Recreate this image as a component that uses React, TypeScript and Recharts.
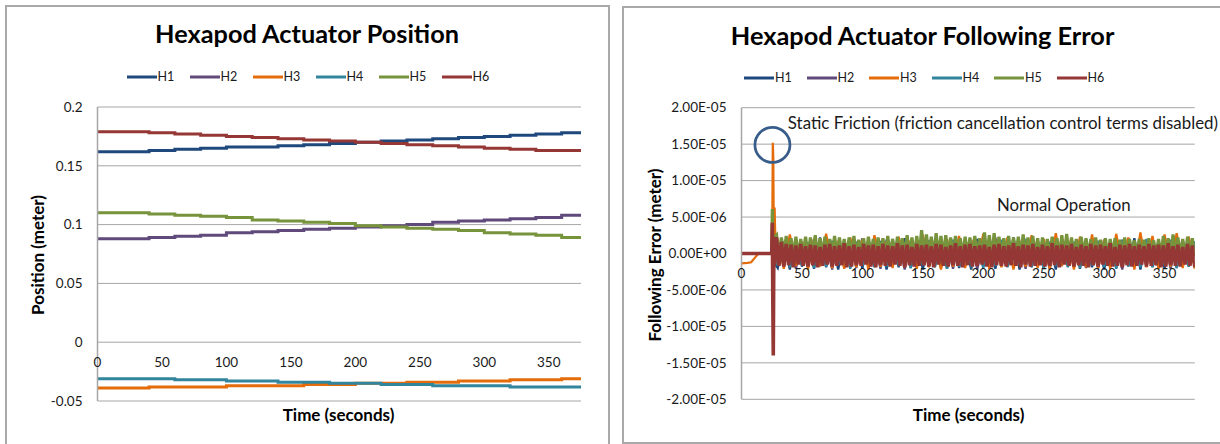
import React from 'react';
import { LineChart, Line, XAxis, YAxis, CartesianGrid, ReferenceDot } from 'recharts';

// ---------- shared ----------
const SERIES = [
  { key: 'H1', color: '#1F497D' },
  { key: 'H2', color: '#604A7B' },
  { key: 'H3', color: '#E46C0A' },
  { key: 'H4', color: '#31859C' },
  { key: 'H5', color: '#77933C' },
  { key: 'H6', color: '#953735' },
];
const TIME_TICKS = [0, 50, 100, 150, 200, 250, 300, 350];
const TIME_DOMAIN = [0, 375];

// ---------- left chart: position (meter) ----------
const POS_TICKS = [-0.05, 0, 0.05, 0.1, 0.15, 0.2];
const POS_TIME = [0, 20, 40, 60, 80, 100, 120, 140, 160, 180, 200, 220, 240, 260, 280, 300, 320, 340, 360, 375];
const POS_H1 = [0.162, 0.162, 0.163, 0.164, 0.165, 0.166, 0.166, 0.167, 0.168, 0.169, 0.170, 0.171, 0.172, 0.173, 0.174, 0.175, 0.176, 0.177, 0.178, 0.179];
const POS_H2 = [0.088, 0.088, 0.089, 0.090, 0.091, 0.093, 0.094, 0.095, 0.096, 0.097, 0.098, 0.099, 0.100, 0.102, 0.103, 0.104, 0.105, 0.106, 0.108, 0.109];
const POS_H3 = [-0.039, -0.039, -0.038, -0.038, -0.038, -0.037, -0.037, -0.037, -0.036, -0.036, -0.035, -0.035, -0.034, -0.034, -0.033, -0.033, -0.032, -0.032, -0.031, -0.031];
const POS_H4 = [-0.031, -0.031, -0.031, -0.032, -0.032, -0.033, -0.033, -0.034, -0.034, -0.035, -0.035, -0.036, -0.036, -0.037, -0.037, -0.037, -0.038, -0.038, -0.038, -0.038];
const POS_H5 = [0.110, 0.110, 0.109, 0.108, 0.107, 0.106, 0.104, 0.103, 0.102, 0.101, 0.099, 0.098, 0.097, 0.096, 0.095, 0.093, 0.092, 0.091, 0.089, 0.088];
const POS_H6 = [0.179, 0.179, 0.178, 0.177, 0.176, 0.175, 0.174, 0.173, 0.172, 0.171, 0.170, 0.169, 0.168, 0.167, 0.166, 0.165, 0.164, 0.163, 0.163, 0.162];

// ---------- right chart: following error (micrometer values, x1e-6 m) ----------
const UM = 1e-6;
const ERR_TICKS = [-2e-5, -1.5e-5, -1e-5, -5e-6, 0, 5e-6, 1e-5, 1.5e-5, 2e-5];
const ERR_START_T = [0, 5, 8, 11, 14, 25.0, 25.5, 25.9, 26.3, 26.8, 27.4, 28.0];
const ERR_START_H1 = [0, 0, 0, 0, 0, 0, 1.5, -6.0, 2.0, -2.5, 1.8, -1.5];
const ERR_START_H2 = [0, 0, 0, 0, 0, 0, 2.0, -5.5, 1.5, -2.0, 1.5, -1.2];
const ERR_START_H3 = [-1.35, -1.3, -1.2, -0.6, 0, 0, 4.0, 15.2, 13.0, -1.0, 6.3, 1.5];
const ERR_START_H4 = [0, 0, 0, 0, 0, 0, 1.0, -4.0, -10.3, 1.5, -1.5, 1.0];
const ERR_START_H5 = [0, 0, 0, 0, 0, 0, 6.1, 2.0, -3.5, 2.5, 1.5, 2.3];
const ERR_START_H6 = [0, 0, 0, 0, 0, 0, 4.2, -6.5, -14.0, 2.0, -1.5, 2.0];

// noise sampled every 5 s from 30 s
const COARSE_T0 = 30;
const COARSE_STEP = 5;
const ERR_NOISE_H1 = [
  -2.0, 1.6, -2.2, 1.9, -1.8, 1.5, -2.1, 2.2, -1.9, 1.7,
  -2.2, 1.8, -1.9, 1.6, -2.1, 2.0, -1.8, 1.7, -2.2, 1.5,
  -1.9, 2.1, -2.0, 1.6, -2.2, 1.8, -1.8, 1.9, -2.1, 1.7,
  -2.0, 1.5, -2.2, 2.0, -1.9, 1.8, -2.1, 1.6, -1.8, 2.2,
  -2.2, 1.7, -1.9, 1.9, -2.0, 1.6, -2.2, 1.8, -1.8, 1.5,
  -2.1, 2.0, -1.9, 1.7, -2.2, 1.6, -2.0, 1.9, -1.8, 2.1,
  -2.2, 1.8, -1.9, 1.6, -2.1, 1.7, -2.0, 1.9, -1.8, 1.6,
];
const ERR_NOISE_H2 = [
  1.5, -1.8, 1.9, -2.1, 1.6, -1.9, 2.0, -1.7, 1.8, -2.2,
  1.7, -1.9, 1.5, -2.0, 2.1, -1.8, 1.6, -2.1, 1.9, -1.7,
  1.8, -2.2, 1.6, -1.9, 2.0, -1.8, 1.7, -2.0, 1.5, -2.1,
  1.9, -1.7, 1.8, -2.2, 1.6, -1.9, 2.2, -1.8, 1.7, -2.0,
  1.5, -2.1, 1.9, -1.8, 1.6, -2.2, 2.0, -1.7, 1.8, -1.9,
  1.7, -2.0, 1.6, -2.1, 1.9, -1.8, 1.5, -2.2, 2.1, -1.9,
  1.8, -1.7, 1.6, -2.0, 1.9, -2.1, 1.7, -1.8, 2.0, -1.9,
];
const ERR_NOISE_H3 = [
  1.8, -2.1, 2.6, -1.7, 1.6, -2.2, 2.0, -1.8, 2.7, -2.0,
  1.7, -2.1, 2.2, -1.9, 1.9, -2.2, 2.5, -1.8, 1.6, -2.0,
  2.3, -1.7, 1.8, -2.1, 2.6, -1.9, 1.7, -2.2, 2.0, -1.8,
  2.4, -2.0, 1.9, -1.7, 2.7, -2.1, 1.8, -1.9, 2.2, -2.2,
  1.7, -1.8, 2.5, -2.0, 2.0, -2.1, 2.8, -1.7, 1.9, -2.2,
  2.3, -1.9, 2.6, -2.0, 1.8, -2.1, 2.7, -1.8, 2.2, -2.2,
  2.9, -1.9, 2.4, -2.1, 2.6, -1.8, 2.8, -2.0, 2.3, -2.1,
];
const ERR_NOISE_H4 = [
  -1.7, 1.6, -1.9, 1.8, -1.6, 1.5, -2.0, 1.9, -1.8, 1.7,
  -1.6, 1.9, -2.1, 1.5, -1.7, 1.8, -1.9, 1.6, -1.8, 2.0,
  -1.7, 1.5, -2.0, 1.8, -1.6, 1.7, -1.9, 1.6, -2.1, 1.9,
  -1.8, 1.7, -1.6, 1.5, -2.0, 1.8, -1.7, 1.9, -1.9, 1.6,
  -1.6, 2.0, -1.8, 1.7, -2.1, 1.5, -1.7, 1.8, -1.9, 1.6,
  -2.0, 1.9, -1.6, 1.7, -1.8, 1.5, -2.1, 1.8, -1.7, 1.6,
  -1.9, 2.0, -1.8, 1.7, -1.6, 1.9, -2.0, 1.5, -1.8, 1.7,
];
// noise sampled every 2 s from 29 s
const FINE_T0 = 29;
const FINE_STEP = 2;
const ERR_NOISE_H5 = [
  2.5, -0.4, 2.2, -0.2, 2.4, -0.5, 2.1, -0.3, 2.3, -0.4,
  2.0, -0.2, 2.3, -0.5, 2.2, -0.3, 2.5, -0.4, 2.1, -0.2,
  2.3, -0.5, 2.0, -0.3, 2.4, -0.4, 2.2, -0.2, 2.0, -0.5,
  2.2, -0.3, 2.4, -0.4, 1.9, -0.2, 2.1, -0.5, 2.3, -0.3,
  2.0, -0.4, 2.2, -0.2, 2.1, -0.5, 2.4, -0.3, 2.0, -0.4,
  2.3, -0.2, 2.1, -0.5, 2.5, -0.3, 2.2, -0.4, 2.4, -0.2,
  3.2, -0.4, 2.6, -0.3, 2.3, -0.5, 2.8, -0.2, 2.4, -0.4,
  2.5, -0.3, 2.2, -0.5, 2.4, -0.2, 2.1, -0.4, 2.3, -0.3,
  2.2, -0.5, 2.4, -0.3, 2.1, -0.4, 2.9, -0.2, 2.5, -0.5,
  2.8, -0.3, 2.3, -0.4, 2.1, -0.2, 2.4, -0.5, 2.2, -0.3,
  2.3, -0.4, 2.6, -0.2, 2.2, -0.5, 2.4, -0.3, 2.1, -0.4,
  2.2, -0.3, 2.0, -0.5, 2.3, -0.2, 2.1, -0.4, 2.5, -0.3,
  2.7, -0.4, 2.2, -0.3, 2.0, -0.5, 2.3, -0.2, 2.1, -0.4,
  2.0, -0.2, 2.2, -0.4, 1.9, -0.3, 2.1, -0.5, 2.0, -0.2,
  2.1, -0.4, 1.9, -0.3, 2.2, -0.5, 2.0, -0.2, 1.8, -0.4,
  2.0, -0.3, 1.9, -0.5, 2.1, -0.2, 1.8, -0.4, 2.0, -0.3,
  2.4, -0.5, 2.1, -0.3, 2.6, -0.4, 2.2, -0.2, 2.0, -0.5,
  2.3, -0.3, 2.1, -0.4,
];
const ERR_NOISE_H6 = [
  2.0, -1.7, 1.6, -1.8, 1.3, -1.6, 1.2, -1.9, 1.1, -1.5,
  1.3, -1.7, 1.0, -1.8, 1.2, -1.6, 1.1, -1.9, 0.9, -1.7,
  1.2, -1.5, 1.3, -1.8, 1.0, -1.7, 1.1, -1.6, 1.4, -1.9,
  1.0, -1.8, 1.2, -1.6, 0.9, -1.7, 1.3, -1.5, 1.1, -1.8,
  1.2, -1.9, 1.0, -1.6, 1.3, -1.7, 1.1, -1.8, 1.0, -1.5,
  1.4, -1.7, 1.1, -1.9, 1.2, -1.6, 0.9, -1.8, 1.3, -1.7,
  1.1, -1.6, 1.2, -1.8, 1.0, -1.9, 1.3, -1.5, 1.2, -1.7,
  0.9, -1.8, 1.1, -1.6, 1.4, -1.7, 1.0, -1.9, 1.2, -1.6,
  1.3, -1.8, 1.0, -1.7, 1.1, -1.5, 1.2, -1.8, 0.9, -1.9,
  1.2, -1.6, 1.3, -1.7, 1.0, -1.8, 1.1, -1.6, 1.4, -1.7,
  1.0, -1.9, 1.2, -1.5, 1.1, -1.8, 1.3, -1.7, 0.9, -1.6,
  1.2, -1.8, 1.0, -1.7, 1.4, -1.6, 1.1, -1.9, 1.2, -1.5,
  1.1, -1.7, 1.3, -1.8, 0.9, -1.6, 1.2, -1.7, 1.0, -1.9,
  1.3, -1.6, 1.1, -1.8, 1.2, -1.5, 1.0, -1.7, 1.4, -1.8,
  0.9, -1.7, 1.2, -1.9, 1.1, -1.6, 1.3, -1.8, 1.0, -1.7,
  1.2, -1.5, 1.0, -1.8, 1.3, -1.7, 1.1, -1.6, 1.2, -1.9,
  1.1, -1.8, 1.4, -1.6, 1.0, -1.7, 1.2, -1.8, 0.9, -1.5,
  1.3, -1.7, 1.1, -1.9,
];

// ---------- build tables ----------
const posSeries = (vals: number[]) => POS_TIME.map((t, i) => ({ t, v: vals[i] }));
const POS_DATA: Record<string, { t: number; v: number }[]> = {
  H1: posSeries(POS_H1), H2: posSeries(POS_H2), H3: posSeries(POS_H3),
  H4: posSeries(POS_H4), H5: posSeries(POS_H5), H6: posSeries(POS_H6),
};
const errSeries = (start: number[], noise: number[], t0: number, step: number) => [
  ...ERR_START_T.map((t, i) => ({ t, v: start[i] * UM })),
  ...noise.map((v, i) => ({ t: t0 + i * step, v: v * UM })),
];
const ERR_DATA: Record<string, { t: number; v: number }[]> = {
  H1: errSeries(ERR_START_H1, ERR_NOISE_H1, COARSE_T0, COARSE_STEP),
  H2: errSeries(ERR_START_H2, ERR_NOISE_H2, COARSE_T0, COARSE_STEP),
  H3: errSeries(ERR_START_H3, ERR_NOISE_H3, COARSE_T0, COARSE_STEP),
  H4: errSeries(ERR_START_H4, ERR_NOISE_H4, COARSE_T0, COARSE_STEP),
  H5: errSeries(ERR_START_H5, ERR_NOISE_H5, FINE_T0, FINE_STEP),
  H6: errSeries(ERR_START_H6, ERR_NOISE_H6, FINE_T0, FINE_STEP),
};
const ERR_WIDTH: Record<string, number> = { H1: 2.25, H2: 2.25, H3: 2.25, H4: 2.25, H5: 3.2, H6: 3.6 };

const fmtExp = (v: number) => {
  if (v === 0) return '0.00E+00';
  const [m, e] = v.toExponential(2).split('e');
  const sign = e[0] === '-' ? '-' : '+';
  const d = e.replace(/^[+-]/, '').padStart(2, '0');
  return `${m}E${sign}${d}`;
};

const FONT = 'Lato, "Open Sans", sans-serif';
const GRID = '#a6a6a6';
const TXT = '#1a1a1a';

// layout constants (page pixels)
const L_TOP = 107, L_BOTTOM = 401, L_LEFT = 97.5, L_RIGHT = 581;
const R_TOP = 107.7, R_BOTTOM = 399.3, R_LEFT = 131.5, R_RIGHT = 584.8; // right chart is offset by 610
const CHART_H = 444;
const XAXIS_H = 20;

const makeXTick = (zeroY: number) => (props: any) => {
  const { x, payload } = props;
  return (
    <text x={x} y={zeroY + 20} dy="0.355em" textAnchor="middle" fontSize={13.5} fill={TXT} fontFamily={FONT}>
      {payload.value}
    </text>
  );
};

const Legend6 = ({ left, top, pitch }: { left: number; top: number; pitch: number }) => (
  <div style={{ position: 'absolute', left, top: top - 9, height: 18, display: 'flex', alignItems: 'center', fontFamily: FONT, fontSize: 12.5, color: TXT }}>
    {SERIES.map((s, i) => (
      <div key={s.key} style={{ display: 'flex', alignItems: 'center', width: i < SERIES.length - 1 ? pitch : 'auto' }}>
        <svg width={30} height={6} style={{ display: 'block' }}>
          <line x1={0} y1={3} x2={30} y2={3} stroke={s.color} strokeWidth={3} />
        </svg>
        <span style={{ marginLeft: 1 }}>{s.key}</span>
      </div>
    ))}
  </div>
);

export default function App() {
  const lZero = L_TOP + (L_BOTTOM - L_TOP) * (0.2 / 0.25);
  const rZero = R_TOP + (R_BOTTOM - R_TOP) * 0.5;
  return (
    <div style={{ position: 'absolute', left: 0, top: 0, width: 1220, height: 444, overflow: 'hidden', background: '#fff', fontFamily: FONT }}>
      {/* panel borders */}
      <div style={{ position: 'absolute', left: 5, top: 4.7, width: 605.3, height: 460, border: '2px solid #a9a9a9', boxSizing: 'border-box' }} />
      <div style={{ position: 'absolute', left: 622.3, top: 6.3, width: 605, height: 437.4, border: '2px solid #a9a9a9', boxSizing: 'border-box' }} />

      {/* left chart */}
      <div style={{ position: 'absolute', left: 0, top: 0 }}>
        <LineChart width={610} height={CHART_H} margin={{ top: L_TOP, right: 610 - L_RIGHT, bottom: CHART_H - L_BOTTOM - XAXIS_H, left: L_LEFT - 60 }}>
          <CartesianGrid vertical={false} stroke={GRID} strokeWidth={1} />
          <XAxis dataKey="t" type="number" domain={TIME_DOMAIN} ticks={TIME_TICKS} height={XAXIS_H} axisLine={false} tickLine={false} tick={makeXTick(lZero)} interval={0} allowDataOverflow />
          <YAxis type="number" domain={[-0.05, 0.2]} ticks={POS_TICKS} width={60} axisLine={{ stroke: GRID, strokeWidth: 1.5 }} tickLine={false} tickSize={0} tickMargin={15} tick={{ fontSize: 13.5, fill: TXT, fontFamily: FONT }} tickFormatter={(v: number) => String(v)} interval={0} allowDataOverflow />
          {SERIES.map((s) => (
            <Line key={s.key} data={POS_DATA[s.key]} dataKey="v" name={s.key} type="stepAfter" stroke={s.color} strokeWidth={3} dot={false} activeDot={false} isAnimationActive={false} />
          ))}
        </LineChart>
      </div>

      {/* right chart */}
      <div style={{ position: 'absolute', left: 610, top: 0 }}>
        <LineChart width={620} height={CHART_H} margin={{ top: R_TOP, right: 620 - R_RIGHT, bottom: CHART_H - R_BOTTOM - XAXIS_H, left: R_LEFT - 100 }}>
          <CartesianGrid vertical={false} stroke={GRID} strokeWidth={1} />
          <XAxis dataKey="t" type="number" domain={TIME_DOMAIN} ticks={TIME_TICKS} height={XAXIS_H} axisLine={false} tickLine={false} tick={makeXTick(rZero)} interval={0} allowDataOverflow />
          <YAxis type="number" domain={[-2e-5, 2e-5]} ticks={ERR_TICKS} width={100} axisLine={{ stroke: GRID, strokeWidth: 1.5 }} tickLine={false} tickSize={0} tickMargin={15} tick={{ fontSize: 13.5, fill: TXT, fontFamily: FONT }} tickFormatter={fmtExp} interval={0} allowDataOverflow />
          {SERIES.map((s) => (
            <Line key={s.key} data={ERR_DATA[s.key]} dataKey="v" name={s.key} type="linear" stroke={s.color} strokeWidth={ERR_WIDTH[s.key]} dot={false} activeDot={false} isAnimationActive={false} />
          ))}
          <ReferenceDot x={25.6} y={1.49e-5} r={17.5} fill="none" stroke="#385D8A" strokeWidth={2.75} ifOverflow="visible" />
        </LineChart>
      </div>

      {/* legends */}
      <Legend6 left={126.5} top={76.7} pitch={63} />
      <Legend6 left={744} top={77.7} pitch={62.5} />

      {/* titles and annotations */}
      <svg width={1220} height={444} style={{ position: 'absolute', left: 0, top: 0, pointerEvents: 'none' }} fontFamily={FONT}>
        <text x={307} y={43.3} textAnchor="middle" fontSize={25.3} fontWeight="bold" fill="#000">Hexapod Actuator Position</text>
        <text x={922.6} y={44.5} textAnchor="middle" fontSize={25.3} fontWeight="bold" fill="#000">Hexapod Actuator Following Error</text>
        <text x={338.5} y={420.7} textAnchor="middle" fontSize={17} fontWeight="bold" fill="#000">Time (seconds)</text>
        <text x={968.6} y={420.5} textAnchor="middle" fontSize={17} fontWeight="bold" fill="#000">Time (seconds)</text>
        <text transform="translate(38,255) rotate(-90)" textAnchor="middle" dy="0.355em" fontSize={17} fontWeight="bold" fill="#000">Position (meter)</text>
        <text transform="translate(654.8,255) rotate(-90)" textAnchor="middle" dy="0.355em" fontSize={17} fontWeight="bold" fill="#000">Following Error (meter)</text>
        <text x={787.8} y={129.3} fontSize={16.9} fill={TXT}>Static Friction (friction cancellation control terms disabled)</text>
        <text x={997} y={211} fontSize={16.8} fill={TXT}>Normal Operation</text>
      </svg>
    </div>
  );
}
